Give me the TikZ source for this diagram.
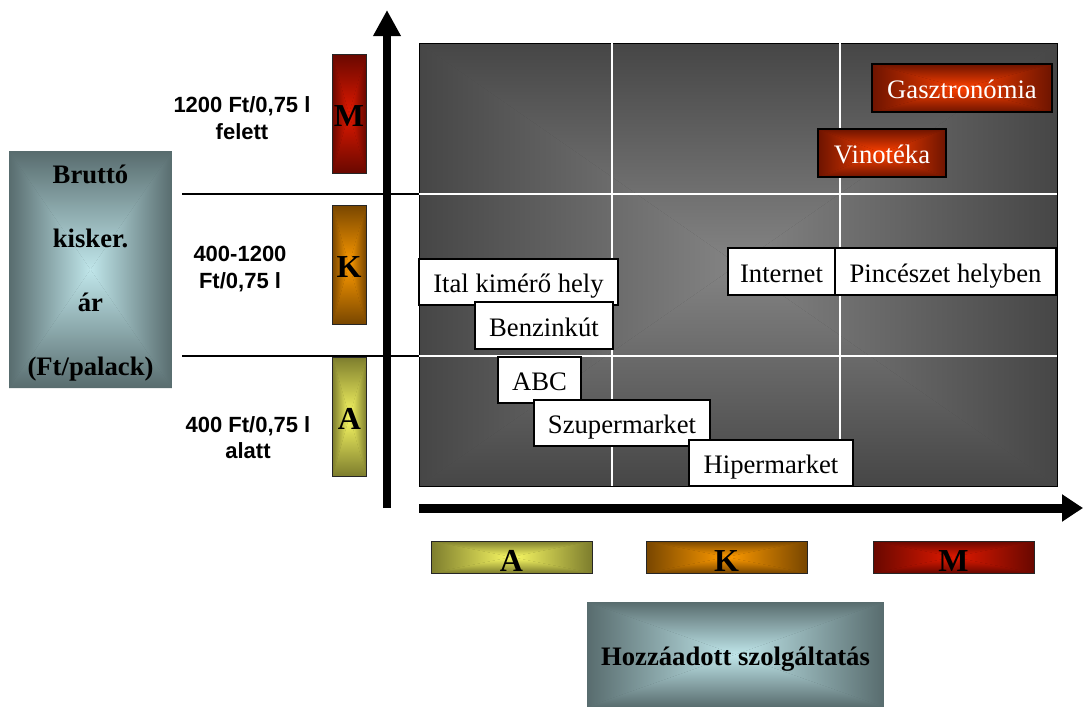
\documentclass[tikz,border=0pt]{standalone}
\usepackage{fontspec}
\setmainfont{Liberation Serif}
\newfontfamily\arialf{Liberation Sans}
\usetikzlibrary{arrows.meta}
\definecolor{slateE}{RGB}{88,108,110}
\definecolor{slateC}{RGB}{192,230,234}
\definecolor{redE}{RGB}{105,8,0}
\definecolor{redC}{RGB}{225,25,0}
\definecolor{orE}{RGB}{120,70,0}
\definecolor{orC}{RGB}{255,155,0}
\definecolor{yeE}{RGB}{125,125,45}
\definecolor{yeC}{RGB}{250,250,100}
\definecolor{brE}{RGB}{110,20,0}
\definecolor{brC}{RGB}{255,65,0}
\definecolor{plotE}{RGB}{70,70,70}
\definecolor{plotC}{RGB}{132,132,132}
\tikzset{
  pyr/.style 2 args={path picture={
    \path (path picture bounding box.north west) coordinate (q1)
          (path picture bounding box.north east) coordinate (q2)
          (path picture bounding box.south east) coordinate (q3)
          (path picture bounding box.south west) coordinate (q4)
          (path picture bounding box.center) coordinate (q0);
    \fill[#1] (q1) rectangle (q3);
    \shade[top color=#1,bottom color=#2] (q1)--(q2)--(q0)--cycle;
    \shade[bottom color=#1,top color=#2] (q4)--(q3)--(q0)--cycle;
    \shade[left color=#1,right color=#2] (q1)--(q4)--(q0)--cycle;
    \shade[right color=#1,left color=#2] (q2)--(q3)--(q0)--cycle;
  }},
  lbl/.style={draw=black, line width=0.8pt, fill=white, inner sep=0pt,
    text height=18pt, text depth=2.2pt,
    font=\fontsize{20}{24}\selectfont},
  redlbl/.style={draw=black, line width=0.8pt, inner sep=0pt, text=white,
    text height=18pt, text depth=2.2pt,
    font=\fontsize{20}{24}\selectfont, pyr={brE}{brC}},
  catv/.style={draw=black!85, line width=0.6pt, inner sep=0pt,
    minimum width=25.5pt, minimum height=89.25pt,
    text height=20pt, text depth=1.2pt,
    font=\bfseries\fontsize{24}{28}\selectfont},
  cath/.style={draw=black!85, line width=0.6pt, inner sep=0pt,
    minimum width=120.75pt, minimum height=24pt,
    text height=22pt, text depth=1pt,
    font=\bfseries\fontsize{24}{28}\selectfont},
  titlebox/.style={inner sep=0pt, align=center, font=\bfseries\fontsize{20}{48}\selectfont, pyr={slateE}{slateC}},
  price/.style={font=\arialf\bfseries\fontsize{16.5}{20}\selectfont, align=center, inner sep=0pt},
  gridln/.style={white, line width=1.1pt},
  bline/.style={black, line width=1.1pt},
}
\begin{document}
\begin{tikzpicture}[x=0.75pt,y=-0.75pt]
\useasboundingbox (0,0) rectangle (1083,707);
\fill[white] (0,0) rectangle (1083,707);

% title boxes
\node[titlebox, minimum width=122.25pt, minimum height=177.75pt] (yt) at (90.5,269.5)
  {\rule{0pt}{20pt}Bruttó\\kisker.\\ár\\(Ft/palack)};
\node[titlebox, font=\bfseries\fontsize{20}{24}\selectfont, text height=18pt, text depth=2pt,
  minimum width=222.75pt, minimum height=78.75pt] (xt) at (735.5,654.5)
  {Hozzáadott szolgáltatás};

% plot area
\node[draw=black, line width=0.6pt, inner sep=0pt, minimum width=478.5pt, minimum height=332.25pt,
  pyr={plotE}{plotC}] (plot) at (738,264.5) {};

% grid lines
\draw[gridln] (plot.north -| 612,0) -- (plot.south -| 612,0);
\draw[gridln] (plot.north -| 840,0) -- (plot.south -| 840,0);
\coordinate (h1) at (182,194);
\coordinate (h2) at (182,356);
\draw[bline] (h1) -- (h1 -| plot.west);
\draw[bline] (h2) -- (h2 -| plot.west);
\draw[gridln] (h1 -| plot.west) -- (h1 -| plot.east);
\draw[gridln] (h2 -| plot.west) -- (h2 -| plot.east);

% price labels
\node[price] (p1) at (242,118) {1200 Ft/0,75 l\\felett};
\node[price] (p2) at (240,269) {400-1200\\Ft/0,75 l};
\node[price] (p3) at (248,437.5) {400 Ft/0,75 l\\alatt};

% vertical category boxes
\node[catv, pyr={redE}{redC}] (vM) at (349,113.5) {M};
\node[catv, pyr={orE}{orC}] (vK) at (349,264.5) {K};
\node[catv, pyr={yeE}{yeC}] (vA) at (349.5,416.5) {A};

% horizontal category boxes
\node[cath, pyr={yeE}{yeC}] (hA) at (511.5,557) {A};
\node[cath, pyr={orE}{orC}] (hK) at (726.5,557) {K};
\node[cath, pyr={redE}{redC}] (hM) at (953.5,557) {M};

% shop boxes
\node[redlbl, minimum width=135pt, minimum height=36pt] (gasz) at (962,88) {Gasztronómia};
\node[redlbl, minimum width=96pt, minimum height=36pt] (vino) at (882,153) {Vinotéka};
\node[lbl, minimum width=80.25pt, minimum height=35.25pt] (inet) at (781.5,271.5) {Internet};
\node[lbl, minimum width=165.75pt, minimum height=35.25pt] (pinc) at (945.5,271.5) {Pincészet helyben};
\node[lbl, minimum width=149.25pt, minimum height=34.5pt] (ital) at (518.5,282) {Ital kimérő hely};
\node[lbl, minimum width=103.5pt, minimum height=35.25pt] (benz) at (544,325.5) {Benzinkút};
\node[lbl, minimum width=62.25pt, minimum height=34.5pt] (abc) at (539.5,380) {ABC};
\node[lbl, minimum width=132pt, minimum height=34.5pt] (szup) at (622,423) {Szupermarket};
\node[lbl, minimum width=123pt, minimum height=34.5pt] (hip) at (771,463) {Hipermarket};

% axes
\coordinate (ya0) at (387,508);
\coordinate (ya1) at (387,10);
\coordinate (xa0) at (419,508);
\coordinate (xa1) at (1083,508);
\draw[line width=6pt, -{Triangle[length=19.5pt,width=19.5pt]}] (ya0) -- (ya1);
\draw[line width=6.75pt, -{Triangle[length=15.75pt,width=19.5pt]}] (xa0) -- (xa1);
\end{tikzpicture}
\end{document}
